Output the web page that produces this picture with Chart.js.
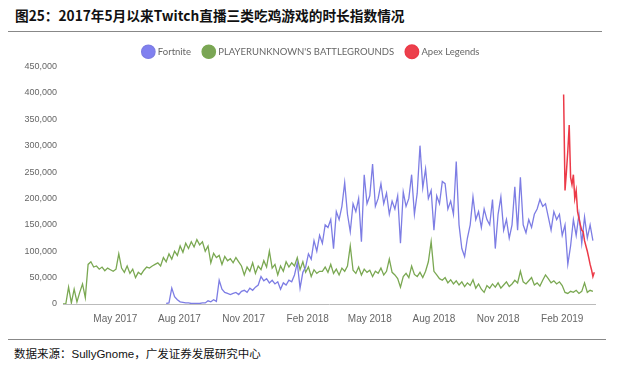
<!DOCTYPE html>
<html>
<head>
<meta charset="utf-8">
<script src="https://cdn.jsdelivr.net/npm/chart.js@4.4.0/dist/chart.umd.min.js"></script>
<style>
    body { margin: 0; width: 640px; height: 377px; background: #fff; position: relative; overflow: hidden; }
    #title { position: absolute; left: 15px; top: 5px; font: bold 13.7px "Noto Sans CJK SC", "Liberation Sans", sans-serif; color: #111; }
    .rule { position: absolute; left: 8px; height: 1px; background: #888; }
    #chartBox { position: absolute; left: 0; top: 34px; width: 600px; height: 300px; }
    #source { position: absolute; left: 14px; top: 345px; font: 11.5px "Liberation Sans", "Noto Sans CJK SC", sans-serif; color: #111; }
</style>
</head>
<body>
<div id="title">图25：2017年5月以来Twitch直播三类吃鸡游戏的时长指数情况</div>
<div class="rule" style="top:31px; width:594px;"></div>
<div id="chartBox"><canvas id="twitchChart"></canvas></div>
<div class="rule" style="top:339px; width:598px;"></div>
<div id="source">数据来源：SullyGnome，广发证券发展研究中心</div>

<script>
// days counted from 2017-02-15, values in thousands of hours
const tickDays = [75, 167, 259, 351, 440, 532, 624, 716];
const tickLabels = ['May 2017', 'Aug 2017', 'Nov 2017', 'Feb 2018', 'May 2018', 'Aug 2018', 'Nov 2018', 'Feb 2019'];
const seriesNames = ['Fortnite', "PLAYERUNKNOWN'S BATTLEGROUNDS", 'Apex Legends'];

const fortniteStart = 148, fortniteStep = 4;
const fortniteValues = [
    1, 2, 30, 14, 8, 4, 3, 2, 2, 1, 1, 1, 1, 2, 2, 6, 4, 8, 5, 45,
    28, 22, 20, 18, 20, 22, 18, 24, 26, 22, 30, 26, 32, 36, 52, 44, 48, 40, 45, 38,
    42, 28, 40, 36, 45, 42, 55, 78, 30, 60, 70, 95, 85, 120, 100, 130, 115, 150, 145, 160,
    105, 175, 160, 185, 230, 170, 137, 190, 175, 200, 118, 245, 190, 205, 265, 185, 200, 228, 190, 210,
    170, 195, 180, 205, 115, 212, 185, 200, 245, 170, 210, 300, 220, 256, 200, 215, 140, 205, 190, 232,
    228, 180, 195, 170, 270, 150, 105, 90, 125, 150, 203, 160, 175, 145, 180, 160, 150, 198, 105, 170,
    203, 140, 160, 125, 150, 222, 140, 240, 150, 135, 160, 145, 170, 180, 198, 185, 190, 165, 140, 175,
    160, 170, 130, 150, 75, 110, 160, 130, 170, 115, 165, 125, 150, 120
];

const pubgStart = 0, pubgStep = 4;
const pubgValues = [
    0, 0, 32, 2, 28, 4, 22, 38, 12, 75, 80, 70, 72, 66, 70, 63, 68, 65, 62, 66,
    95, 68, 60, 72, 58, 66, 50, 60, 56, 64, 70, 68, 72, 75, 78, 72, 88, 80, 95, 85,
    100, 92, 110, 98, 115, 105, 118, 108, 122, 112, 118, 100, 110, 78, 96, 88, 92, 75, 90, 82,
    86, 78, 88, 80, 72, 55, 70, 62, 78, 58, 72, 65, 82, 70, 100, 68, 75, 55, 72, 62,
    80, 70, 78, 72, 88, 65, 80, 60, 70, 52, 65, 58, 62, 62, 70, 60, 75, 58, 66, 55,
    68, 62, 72, 110, 64, 58, 70, 55, 66, 60, 64, 52, 62, 58, 68, 55, 62, 85, 60, 55,
    48, 32, 52, 58, 50, 72, 56, 52, 60, 50, 62, 80, 118, 62, 55, 48, 45, 50, 40, 46,
    38, 44, 36, 42, 33, 40, 35, 46, 30, 38, 28, 22, 35, 30, 38, 32, 40, 30, 36, 42,
    33, 38, 45, 40, 62, 42, 38, 44, 50, 36, 40, 34, 45, 55, 48, 40, 44, 38, 42, 35,
    22, 20, 24, 22, 26, 20, 24, 40, 22, 26, 24
];

const apexStart = 718, apexStep = 2;
const apexValues = [
    397, 215, 250, 290, 339, 240, 226, 245, 200, 215, 175, 162, 150, 140, 137, 120,
    110, 100, 88, 75, 65, 52, 60
];

function toPoints(start, step, values) {
    return values.map((v, i) => ({ x: start + i * step, y: v }));
}

// the legend in the picture sits a bit right of the canvas centre
const legendShift = {
    id: 'legendShift',
    afterLayout(chart) {
        chart.legend.left += 14;
        chart.legend.right += 14;
    }
};

const ctx = document.getElementById('twitchChart').getContext('2d');

new Chart(ctx, {
    type: 'line',
    data: {
        datasets: [{
            label: seriesNames[0],
            data: toPoints(fortniteStart, fortniteStep, fortniteValues),
            borderColor: 'rgb(125, 125, 228)',
            backgroundColor: 'rgb(128, 128, 240)',
            borderWidth: 1.3,
            pointRadius: 0
        }, {
            label: seriesNames[1],
            data: toPoints(pubgStart, pubgStep, pubgValues),
            borderColor: 'rgb(122, 168, 82)',
            backgroundColor: 'rgb(122, 165, 85)',
            borderWidth: 1.3,
            pointRadius: 0
        }, {
            label: seriesNames[2],
            data: toPoints(apexStart, apexStep, apexValues),
            borderColor: 'rgb(236, 58, 72)',
            backgroundColor: 'rgb(236, 64, 76)',
            borderWidth: 1.5,
            pointRadius: 0,
            order: -1
        }]
    },
    options: {
        responsive: true,
        maintainAspectRatio: false,
        animation: false,
        layout: { padding: { left: 0, right: 5, top: 0, bottom: 0 } },
        plugins: {
            tooltip: { enabled: false },
            legend: {
                position: 'top',
                labels: {
                    usePointStyle: true,
                    pointStyle: 'circle',
                    color: '#666',
                    font: { family: 'Lato', size: 9.5 },
                    padding: 13,
                    sort: (a, b) => a.datasetIndex - b.datasetIndex
                }
            }
        },
        scales: {
            x: {
                type: 'linear',
                min: 0,
                max: 763,
                afterBuildTicks: function(scale) {
                    scale.ticks = tickDays.map(d => ({ value: d }));
                },
                ticks: {
                    autoSkip: false,
                    maxRotation: 0,
                    padding: 9,
                    color: '#666',
                    font: { family: 'Liberation Sans', size: 10 },
                    callback: function(value, index) {
                        return tickLabels[index];
                    }
                },
                grid: { display: false, drawTicks: false },
                border: { display: true, color: '#bbb' }
            },
            y: {
                min: 0,
                max: 450,
                afterFit: function(scale) {
                    scale.width = 63;
                },
                ticks: {
                    stepSize: 50,
                    padding: 6,
                    color: '#666',
                    font: { family: 'Liberation Sans', size: 9 },
                    callback: function(value) {
                        return (value * 1000).toLocaleString('en-US');
                    }
                },
                grid: { display: false, drawTicks: false },
                border: { display: false }
            }
        }
    },
    plugins: [legendShift]
});
</script>
</body>
</html>
